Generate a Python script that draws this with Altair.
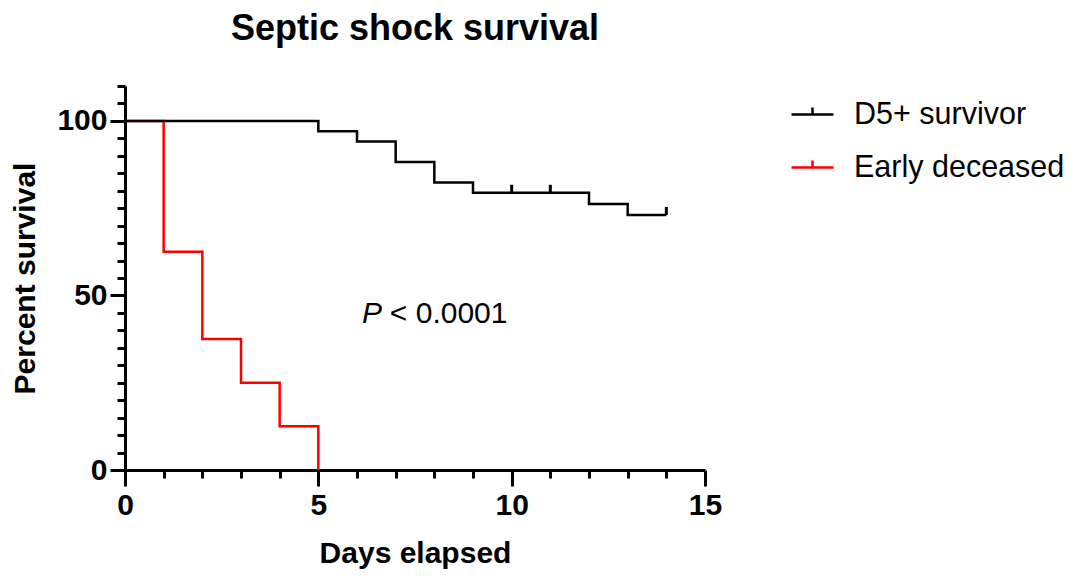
import altair as alt
import pandas as pd

# Kaplan-Meier survival steps
survivor_days = [0, 5, 6, 7, 8, 9, 12, 13, 14]
survivor_pct = [100, 97.06, 94.12, 88.24, 82.35, 79.41, 76.23, 73.05, 73.05]
early_days = [0, 1, 2, 3, 4, 5]
early_pct = [100, 62.5, 37.5, 25.0, 12.5, 0]
censor_days = [10, 11, 14]
censor_pct = [79.41, 79.41, 73.05]
groups = ["D5+ survivor", "Early deceased"]
colors = ["#000000", "#ff0000"]
annot_x = [6.13, 6.85]
annot_y = [44.7, 44.7]
annot_text = ["P", "< 0.0001"]

FONT = "Liberation Sans, Arial, Helvetica, sans-serif"

early_df = pd.DataFrame({"day": early_days, "pct": early_pct, "group": groups[1]})
surv_df = pd.DataFrame({"day": survivor_days, "pct": survivor_pct, "group": groups[0]})
cens_df = pd.DataFrame({"day": censor_days, "pct": censor_pct, "group": groups[0]})
p_df = pd.DataFrame({"x": annot_x[:1], "y": annot_y[:1], "t": annot_text[:1]})
v_df = pd.DataFrame({"x": annot_x[1:], "y": annot_y[1:], "t": annot_text[1:]})

x_scale = alt.Scale(domain=[0, 15], nice=False, zero=True)
y_scale = alt.Scale(domain=[0, 110], nice=False, zero=True)

x_axis = alt.Axis(
    values=list(range(0, 16)),
    tickCount=100,
    format="d",
    labelExpr="datum.value % 5 === 0 ? datum.label : ''",
    tickSize={"condition": {"test": "datum.value % 5 === 0", "value": 16}, "value": 8},
    labelPadding=4,
    labelOverlap=False,
    labelFlush=False,
    labelBound=False,
    title="Days elapsed",
    titleX=290,
    titleY=83,
    titleBaseline="middle",
    titleAlign="center",
)
y_axis = alt.Axis(
    values=list(range(0, 111, 5)),
    tickCount=100,
    format="d",
    labelExpr="datum.value % 50 === 0 ? datum.label : ''",
    tickSize={"condition": {"test": "datum.value % 50 === 0", "value": 15}, "value": 8},
    labelPadding=3,
    labelOverlap=False,
    labelFlush=False,
    labelBound=False,
    title="Percent survival",
    titleX=-100,
    titleY=192,
    titleAngle=270,
    titleBaseline="middle",
    titleAlign="center",
)

color = alt.Color(
    "group:N",
    scale=alt.Scale(domain=groups, range=colors),
    legend=alt.Legend(
        title=None,
        orient="none",
        legendX=665,
        legendY=6,
        symbolType="M-1,0L1,0M0,0L0,-0.33",
        symbolSize=1764,
        symbolStrokeWidth=2.5,
        labelFontSize=30.5,
        labelFont=FONT,
        labelColor="#000000",
        labelOffset=19,
        rowPadding=15,
        labelLimit=400,
    ),
)

red = alt.Chart(early_df).mark_line(interpolate="step-after", strokeWidth=2.5).encode(
    x=alt.X("day:Q", scale=x_scale, axis=x_axis),
    y=alt.Y("pct:Q", scale=y_scale, axis=y_axis),
    color=color,
)
black = alt.Chart(surv_df).mark_line(interpolate="step-after", strokeWidth=2.5).encode(
    x=alt.X("day:Q", scale=x_scale),
    y=alt.Y("pct:Q", scale=y_scale),
    color=color,
)
censor = alt.Chart(cens_df).mark_tick(
    orient="vertical", size=8, thickness=3, yOffset=-4, color="#000000", opacity=1
).encode(
    x=alt.X("day:Q", scale=x_scale),
    y=alt.Y("pct:Q", scale=y_scale),
)
p_text = alt.Chart(p_df).mark_text(
    align="left", baseline="middle", fontSize=30, font=FONT, fontStyle="italic", color="#000000"
).encode(x=alt.X("x:Q", scale=x_scale), y=alt.Y("y:Q", scale=y_scale), text="t:N")
v_text = alt.Chart(v_df).mark_text(
    align="left", baseline="middle", fontSize=30, font=FONT, color="#000000"
).encode(x=alt.X("x:Q", scale=x_scale), y=alt.Y("y:Q", scale=y_scale), text="t:N")

chart = alt.layer(red, black, censor, p_text, v_text).properties(
    width=580,
    height=384,
    autosize=alt.AutoSizeParams(type="none"),
    padding={"left": 117, "top": 78, "right": 361, "bottom": 100},
    title=alt.TitleParams(
        "Septic shock survival",
        fontSize=36,
        font=FONT,
        fontWeight="bold",
        color="#000000",
        anchor="middle",
        frame="group",
        baseline="alphabetic",
        offset=12,
        dy=17,
    ),
).configure_view(stroke=None).configure_axis(
    grid=False,
    domainColor="#000000",
    domainWidth=3,
    tickColor="#000000",
    tickWidth=3,
    labelFont=FONT,
    labelFontSize=30,
    labelFontWeight="bold",
    labelColor="#000000",
    titleFont=FONT,
    titleFontSize=30,
    titleFontWeight="bold",
    titleColor="#000000",
)

chart.save("out.html", embed_options={"renderer": "svg", "actions": False})
